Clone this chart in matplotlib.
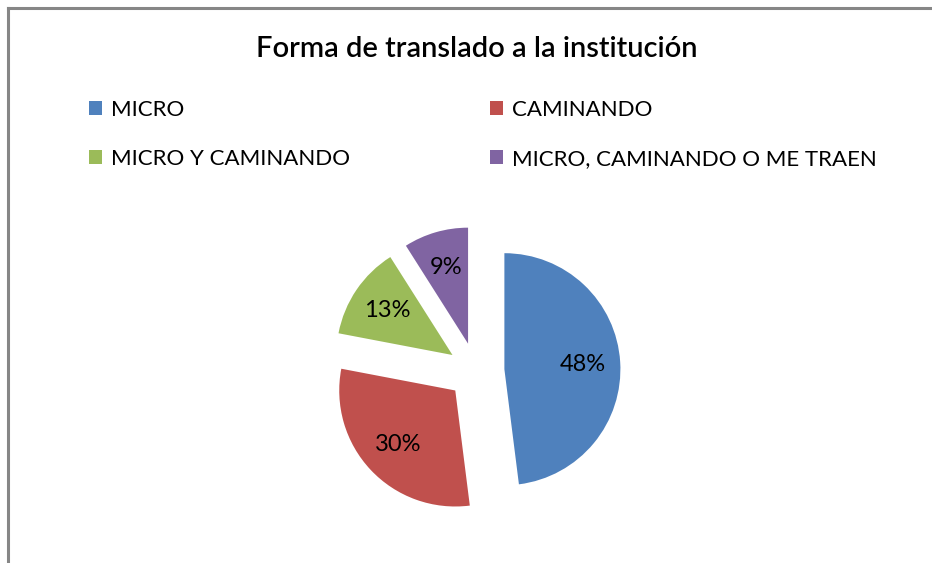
import matplotlib.pyplot as plt
from matplotlib.lines import Line2D

labels = ['MICRO', 'CAMINANDO', 'MICRO Y CAMINANDO', 'MICRO, CAMINANDO O ME TRAEN']
values = [48, 30, 13, 9]
colors = ['#4f81bd', '#c0504d', '#9bbb59', '#8064a2']

plt.rcParams['font.family'] = ['Lato', 'DejaVu Sans']

fig = plt.figure(figsize=(9.32, 5.63), dpi=100)

# frame of the chart area (only top and left edges show)
fig.add_artist(Line2D([8 / 932, 8 / 932], [0, 1 - 8 / 563], color='#868686', lw=2.2))
fig.add_artist(Line2D([8 / 932, 1], [1 - 8 / 563, 1 - 8 / 563], color='#868686', lw=2.2))

fig.text(0.512, 1 - 49 / 563, 'Forma de translado a la institución',
         ha='center', va='center', fontsize=21, fontweight='semibold')

ax = fig.add_axes([(476 - 182) / 932, (563 - 553) / 563, 364 / 932, 364 / 563])
wedges, texts, autotexts = ax.pie(values, colors=colors, startangle=90, counterclock=False,
                                  explode=[0.25] * 4, radius=1.02, autopct='%1.0f%%',
                                  pctdistance=0.68, textprops={'fontsize': 17})
ax.set_xlim(-1.6, 1.6)
ax.set_ylim(-1.6, 1.6)
ax.axis('off')

# legend filled row by row
order = [0, 2, 1, 3]
fig.legend([wedges[i] for i in order], [labels[i] for i in order], ncol=2, loc='upper left',
           bbox_to_anchor=(80 / 932, 1 - 91 / 563),
           frameon=False, fontsize=16, handlelength=0.6, handleheight=0.6, handletextpad=0.4,
           columnspacing=6.3, labelspacing=1.3, borderaxespad=0)

fig.savefig('out.png', dpi=100)
